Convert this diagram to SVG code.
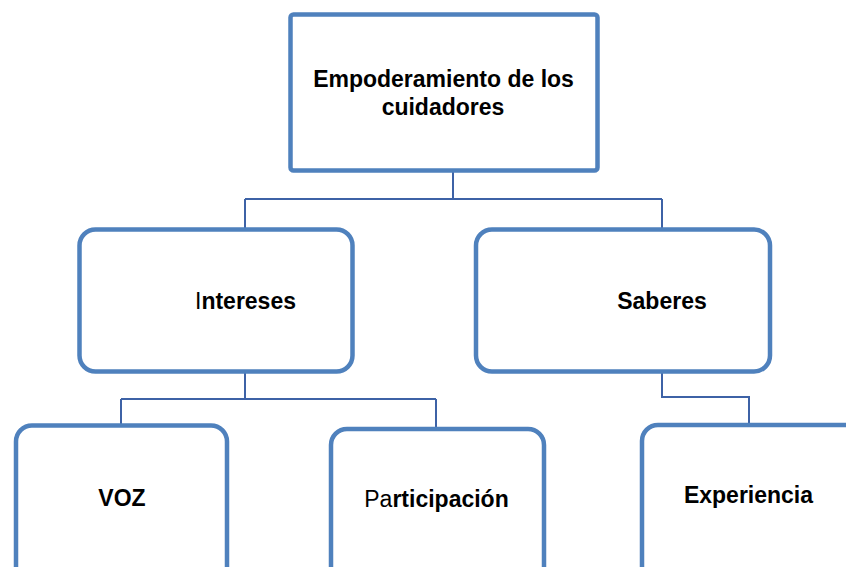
<svg xmlns="http://www.w3.org/2000/svg" width="846" height="567" viewBox="0 0 846 567">
<style>
.box{fill:#fff;stroke:#4F81BD;stroke-width:4.5}
.conn{fill:none;stroke:#3D62A6;stroke-width:2}
text{font-family:"Liberation Sans",Arial,sans-serif;font-size:23px;font-weight:bold;fill:#000;text-anchor:middle}
.n{font-weight:normal}
</style>
<rect width="846" height="567" fill="#fff"/>
<g id="connectors">
<path class="conn" d="M453 172V199M245 199H662M245 199V229M662 199V229"/>
<path class="conn" d="M245 373V399M121 399H436M121 399V425M436 399V429"/>
<path class="conn" d="M662 373V397H749V425"/>
</g>
<g id="root">
<rect class="box" x="290.5" y="14.5" width="307" height="156" rx="3" stroke-width="5"/>
<text x="443.5" y="87">Empoderamiento de los</text>
<text x="443" y="115">cuidadores</text>
</g>
<g id="intereses">
<rect class="box" x="79.5" y="229.5" width="273" height="142" rx="16"/>
<text x="245.5" y="309"><tspan class="n">I</tspan>ntereses</text>
</g>
<g id="saberes">
<rect class="box" x="476" y="229.5" width="294" height="142" rx="16"/>
<text x="662" y="309">Saberes</text>
</g>
<g id="voz">
<rect class="box" x="16" y="425.5" width="211" height="170" rx="16"/>
<text x="122" y="506">VOZ</text>
</g>
<g id="participacion">
<rect class="box" x="331" y="429" width="213" height="170" rx="16"/>
<text x="436.5" y="507"><tspan class="n">Pa</tspan>rticipación</text>
</g>
<g id="experiencia">
<rect class="box" x="642" y="425" width="230" height="170" rx="16"/>
<text x="748.5" y="503">Experiencia</text>
</g>
</svg>
